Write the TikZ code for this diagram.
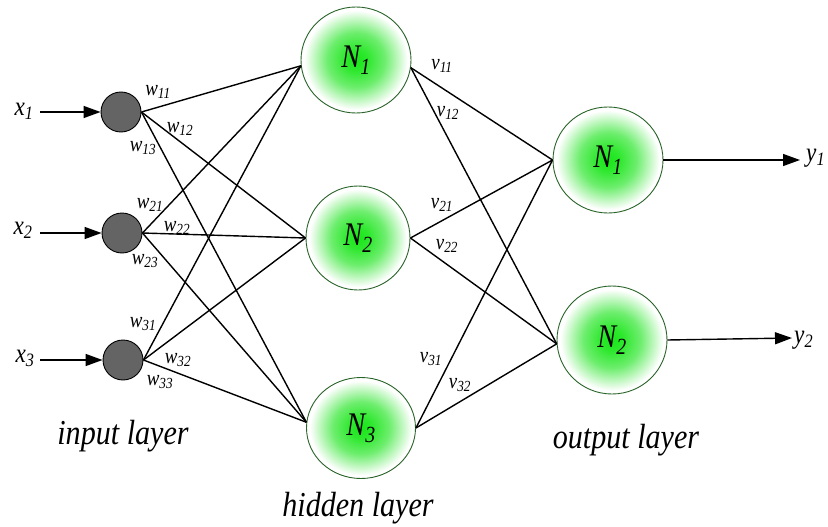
\documentclass[tikz,border=0pt]{standalone}
\usepackage{graphicx}
\usepackage{fontspec}
\setmainfont{Liberation Serif}
\newcommand\cnd[1]{\scalebox{0.86}[1]{#1}}
\usetikzlibrary{shapes.geometric,arrows.meta}
\definecolor{gcore}{RGB}{25,230,25}
\definecolor{gin}{RGB}{45,232,45}
\definecolor{gmid}{RGB}{110,238,110}
\definecolor{gout}{RGB}{200,248,200}
\definecolor{ndark}{RGB}{40,100,40}
\definecolor{ingray}{RGB}{100,100,100}
\pgfdeclareradialshading{greenball}{\pgfpoint{0bp}{0bp}}{color(0bp)=(gcore); color(5bp)=(gin); color(13bp)=(gmid); color(19.5bp)=(gout); color(23.5bp)=(white); color(50bp)=(white)}
\begin{document}
\begin{tikzpicture}[x=1pt,y=-1pt,
  inp/.style={circle,draw=black,fill=ingray,minimum size=40pt,inner sep=0pt,line width=0.9pt},
  neuron/.style={ellipse,draw=ndark,line width=0.9pt,shading=greenball,inner sep=0pt,font=\fontsize{33}{33}\selectfont\itshape},
  conn/.style={line width=1.4pt},
  wl/.style={font=\fontsize{22}{22}\selectfont\itshape,inner sep=0pt},
  lab/.style={font=\fontsize{27}{27}\selectfont\itshape,inner sep=0pt},
  layer/.style={font=\fontsize{35}{35}\selectfont\itshape,inner sep=0pt},
  arr/.style={line width=1.4pt,-{Triangle[length=17pt,width=12pt]}}]
\useasboundingbox (0,0) rectangle (828,527);
% input nodes
\node[inp] (i1) at (121,112) {};
\node[inp] (i2) at (122,233) {};
\node[inp] (i3) at (123,360) {};
% hidden nodes
\node[neuron,minimum width=110pt,minimum height=106pt] (h1) at (356,60) {\cnd{N\textsubscript{1}}};
\node[neuron,minimum width=104pt,minimum height=104pt] (h2) at (358,238) {\cnd{N\textsubscript{2}}};
\node[neuron,minimum width=109pt,minimum height=101pt] (h3) at (361,428) {\cnd{N\textsubscript{3}}};
% output nodes
\node[neuron,minimum width=110pt,minimum height=106pt] (o1) at (608,160) {\cnd{N\textsubscript{1}}};
\node[neuron,minimum width=110pt,minimum height=108pt] (o2) at (612,340) {\cnd{N\textsubscript{2}}};
% free ends
\coordinate (xs1) at (40,112);
\coordinate (xs2) at (40,233);
\coordinate (xs3) at (40,360);
\coordinate (ye1) at (800,160);
\coordinate (ye2) at (792,338);
% input arrows
\draw[arr] (xs1) -- (i1);
\draw[arr] (xs2) -- (i2);
\draw[arr] (xs3) -- (i3);
% input -> hidden
\foreach \i in {1,2,3}{
  \draw[conn] (i\i.east) -- (h1.186);
  \draw[conn] (i\i.east) -- (h2.west);
  \draw[conn] (i\i.east) -- (h3.174);
}
% hidden -> output
\foreach \j in {h1.352,h2.east,h3.east}{
  \draw[conn] (\j) -- (o1.west);
  \draw[conn] (\j) -- (o2.184);
}
% output arrows
\draw[arr] (o1.east) -- (ye1);
\draw[arr] (o2.east) -- (ye2);
% labels
\node[lab] (lx1) at (24,111) {\cnd{x\textsubscript{1}}};
\node[lab] (lx2) at (23,230) {\cnd{x\textsubscript{2}}};
\node[lab] (lx3) at (25,358) {\cnd{x\textsubscript{3}}};
\node[lab,anchor=west] (ly1) at (806,158) {\cnd{y\textsubscript{1}}};
\node[lab,anchor=west] (ly2) at (794,340) {\cnd{y\textsubscript{2}}};
% weights
\node[wl] (w11) at (158,92) {\cnd{w\textsubscript{11}}};
\node[wl] (w12) at (180,129) {\cnd{w\textsubscript{12}}};
\node[wl] (w13) at (143,148) {\cnd{w\textsubscript{13}}};
\node[wl] (w21) at (150,205) {\cnd{w\textsubscript{21}}};
\node[wl] (w22) at (177,228) {\cnd{w\textsubscript{22}}};
\node[wl] (w23) at (145,261) {\cnd{w\textsubscript{23}}};
\node[wl] (w31) at (143,324) {\cnd{w\textsubscript{31}}};
\node[wl] (w32) at (178,360) {\cnd{w\textsubscript{32}}};
\node[wl] (w33) at (160,382) {\cnd{w\textsubscript{33}}};
\node[wl] (v11) at (442,66) {\cnd{v\textsubscript{11}}};
\node[wl] (v12) at (448,113) {\cnd{v\textsubscript{12}}};
\node[wl] (v21) at (442,205) {\cnd{v\textsubscript{21}}};
\node[wl] (v22) at (447,246) {\cnd{v\textsubscript{22}}};
\node[wl] (v31) at (431,359) {\cnd{v\textsubscript{31}}};
\node[wl] (v32) at (460,385) {\cnd{v\textsubscript{32}}};
% layer names
\node[layer] (Lin) at (123,436) {\cnd{input layer}};
\node[layer] (Lhid) at (358,508) {\cnd{hidden layer}};
\node[layer] (Lout) at (626,440) {\cnd{output layer}};
\end{tikzpicture}
\end{document}
